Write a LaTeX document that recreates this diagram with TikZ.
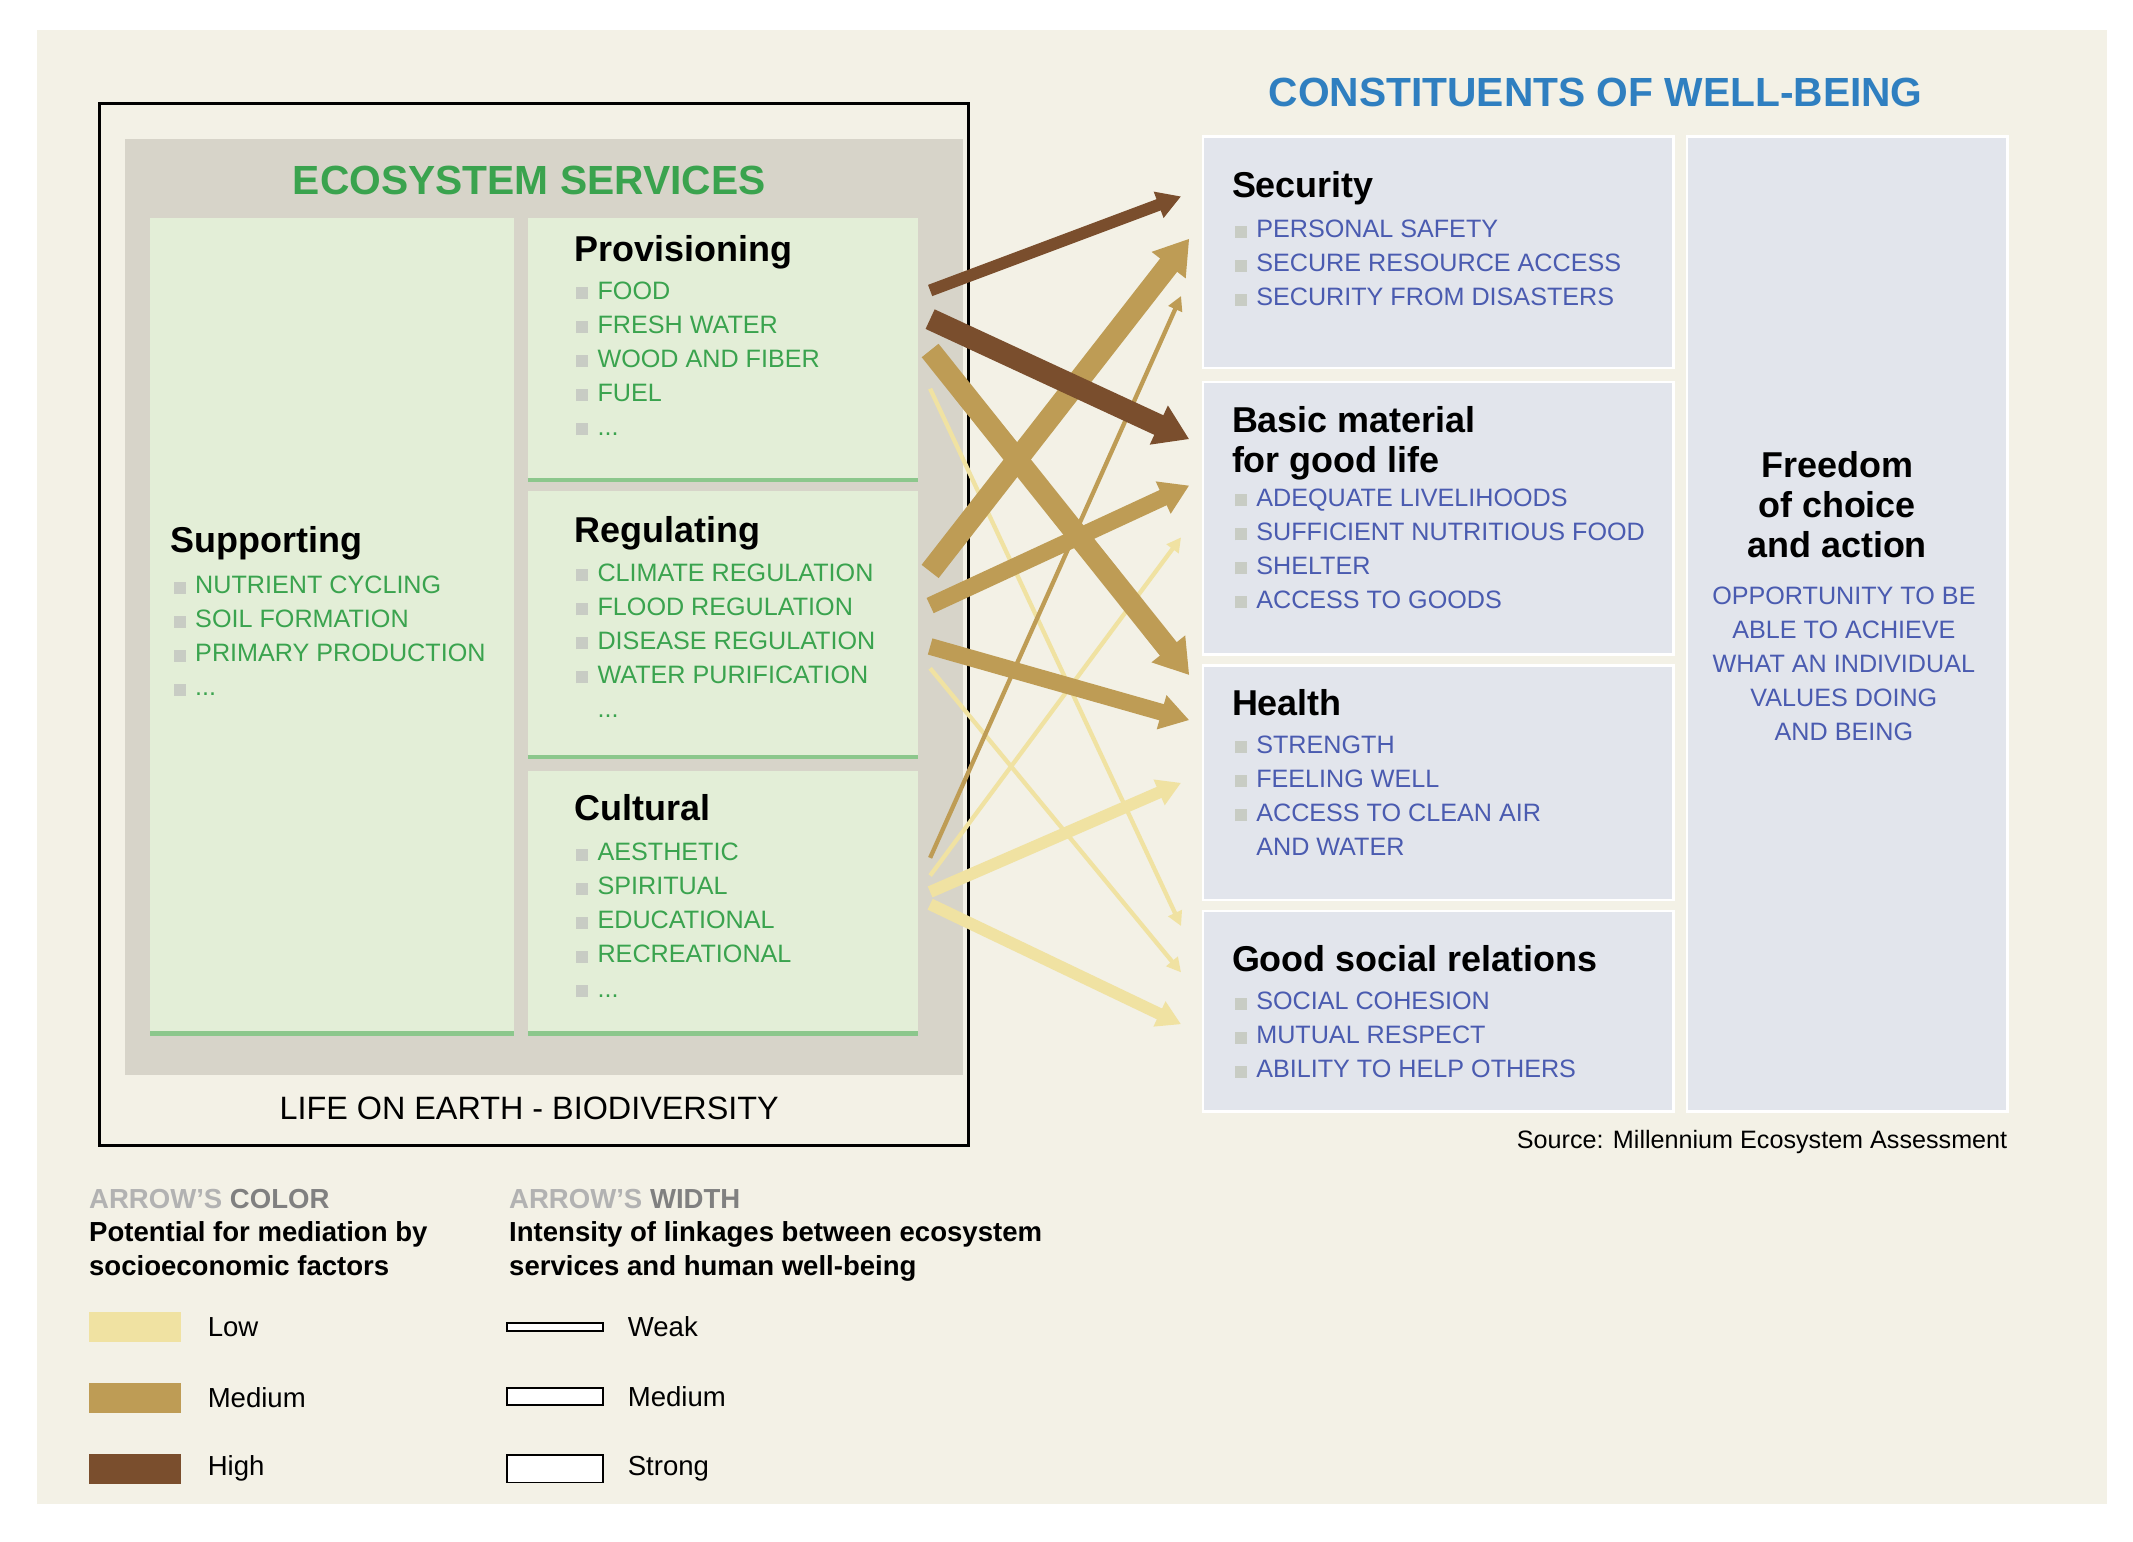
\documentclass[tikz,border=0pt]{standalone}
\usepackage{fontspec}
\setmainfont{Liberation Sans}
\usetikzlibrary{arrows.meta}
\definecolor{bg}{HTML}{F3F1E6}
\definecolor{grayb}{HTML}{D7D4C9}
\definecolor{greenp}{HTML}{E3EED7}
\definecolor{greenl}{HTML}{8CC78C}
\definecolor{greent}{HTML}{3AA34E}
\definecolor{bluep}{HTML}{E2E5EC}
\definecolor{bluet}{HTML}{4A5BB0}
\definecolor{titleb}{HTML}{2F7FC0}
\definecolor{bul}{HTML}{C8CCC4}
\definecolor{clow}{HTML}{F0E2A2}
\definecolor{cmed}{HTML}{BE9C55}
\definecolor{chigh}{HTML}{7A4E2D}
\newcommand\bl{\textcolor{bul}{\rule{5pt}{5pt}}\hspace{4pt}}
\tikzset{
 gpanel/.style={fill=greenp,draw=none},
 bpanel/.style={fill=bluep,draw=white,line width=1pt},
 head/.style={anchor=north west,font=\fontsize{15}{17}\selectfont\bfseries,align=left,inner sep=0pt},
 glist/.style={anchor=north west,font=\fontsize{10.5}{14.2}\selectfont,text=greent,align=left,inner sep=0pt},
 blist/.style={anchor=north west,font=\fontsize{10.5}{14.2}\selectfont,text=bluet,align=left,inner sep=0pt},
 weak/.style={-{Triangle[length=6pt,width=6pt]},line width=1.8pt},
 medw/.style={-{Triangle[length=10pt,width=11pt]},line width=5pt},
 medx/.style={-{Triangle[length=12pt,width=14pt]},line width=7pt},
 strong/.style={-{Triangle[length=14pt,width=17pt]},line width=9pt},
 leg/.style={anchor=west,font=\fontsize{11.5}{14}\selectfont,inner sep=0pt},
}
\begin{document}
\begin{tikzpicture}[x=0.02cm,y=-0.02cm]
\useasboundingbox (0,0) rectangle (1564,1130);
\fill[bg] (27,22) rectangle (1545,1103);
% left frame
\draw[line width=1.5pt] (73,76) rectangle (710,840);
\fill[grayb] (92,102) rectangle (706,788);
\node[font=\fontsize{17}{19}\selectfont\bfseries,text=greent] (est) at (388,132) {ECOSYSTEM SERVICES};
\fill[gpanel] (110,160) rectangle (377,758);
\fill[gpanel] (387,160) rectangle (673,352);
\fill[gpanel] (387,360) rectangle (673,555);
\fill[gpanel] (387,565) rectangle (673,758);
\foreach \a/\b/\y in {110/377/758,387/673/352,387/673/555,387/673/758}
  \draw[greenl,line width=2pt] (\a,\y) -- (\b,\y);
\node[head] (sup) at (125,386) {Supporting};
\node[glist] (supl) at (127,422) {\bl NUTRIENT CYCLING\\\bl SOIL FORMATION\\\bl PRIMARY PRODUCTION\\\bl ...};
\node[head] (prov) at (421,172) {Provisioning};
\node[glist] (provl) at (422,206) {\bl FOOD\\\bl FRESH WATER\\\bl WOOD AND FIBER\\\bl FUEL\\\bl ...};
\node[head] (reg) at (421,378) {Regulating};
\node[glist] (regl) at (422,413) {\bl CLIMATE REGULATION\\\bl FLOOD REGULATION\\\bl DISEASE REGULATION\\\bl WATER PURIFICATION\\\hspace{9pt}...};
\node[head] (cul) at (421,582) {Cultural};
\node[glist] (cull) at (422,618) {\bl AESTHETIC\\\bl SPIRITUAL\\\bl EDUCATIONAL\\\bl RECREATIONAL\\\bl ...};
\node[font=\fontsize{13.5}{15}\selectfont] (life) at (388,813) {LIFE ON EARTH - BIODIVERSITY};
% right
\node[font=\fontsize{17}{19}\selectfont\bfseries,text=titleb] (cwb) at (1170,68) {CONSTITUENTS OF WELL-BEING};
\draw[bpanel] (882,100) rectangle (1227,270);
\draw[bpanel] (882,280) rectangle (1227,480);
\draw[bpanel] (882,488) rectangle (1227,660);
\draw[bpanel] (882,668) rectangle (1227,815);
\draw[bpanel] (1237,100) rectangle (1472,815);
\node[head] (sec) at (903,125) {Security};
\node[blist] (secl) at (905,161) {\bl PERSONAL SAFETY\\\bl SECURE RESOURCE ACCESS\\\bl SECURITY FROM DISASTERS};
\node[head,font=\fontsize{15}{16.5}\selectfont\bfseries] (bas) at (903,298) {Basic material\\for good life};
\node[blist] (basl) at (905,358) {\bl ADEQUATE LIVELIHOODS\\\bl SUFFICIENT NUTRITIOUS FOOD\\\bl SHELTER\\\bl ACCESS TO GOODS};
\node[head] (hea) at (903,505) {Health};
\node[blist] (heal) at (905,539) {\bl STRENGTH\\\bl FEELING WELL\\\bl ACCESS TO CLEAN AIR\\\hspace{9pt}AND WATER};
\node[head] (soc) at (903,693) {Good social relations};
\node[blist] (socl) at (905,727) {\bl SOCIAL COHESION\\\bl MUTUAL RESPECT\\\bl ABILITY TO HELP OTHERS};
\node[font=\fontsize{15}{16.5}\selectfont\bfseries,align=center] (fre) at (1347,370) {Freedom\\of choice\\and action};
\node[font=\fontsize{10.5}{14.2}\selectfont,text=bluet,align=center,anchor=north] (frel) at (1352,424) {OPPORTUNITY TO BE\\ABLE TO ACHIEVE\\WHAT AN INDIVIDUAL\\VALUES DOING\\AND BEING};
\node[anchor=east,font=\fontsize{10.5}{12}\selectfont] (src) at (1478,837) {Source: Millennium Ecosystem Assessment};
% arrow coordinates
\coordinate (s1) at (682,213); \coordinate (s2) at (682,234); \coordinate (s3) at (682,257);
\coordinate (s4) at (682,285); \coordinate (s5) at (682,419); \coordinate (s6) at (682,444);
\coordinate (s7) at (682,474); \coordinate (s8) at (682,490); \coordinate (s9) at (682,629);
\coordinate (s10) at (682,642); \coordinate (s11) at (682,654); \coordinate (s12) at (682,663);
\coordinate (e1) at (866,144); \coordinate (e2) at (872,175); \coordinate (e3) at (866,217);
\coordinate (e4) at (872,322); \coordinate (e5) at (872,356); \coordinate (e6) at (866,394);
\coordinate (e7) at (872,495); \coordinate (e8) at (872,528); \coordinate (e9) at (866,574);
\coordinate (e10) at (866,679); \coordinate (e11) at (866,713); \coordinate (e12) at (866,751);
% arrows: low
\draw[weak,clow] (s4) -- (e10);
\draw[weak,clow] (s8) -- (e11);
\draw[weak,clow] (s10) -- (e6);
\draw[medw,clow] (s11) -- (e9);
\draw[medw,clow] (s12) -- (e12);
% medium
\draw[weak,cmed] (s9) -- (e3);
\draw[strong,cmed] (s3) -- (e7);
\draw[strong,cmed] (s5) -- (e2);
\draw[medx,cmed] (s6) -- (e5);
\draw[medx,cmed] (s7) -- (e8);
% high
\draw[medw,chigh] (s1) -- (e1);
\draw[strong,chigh] (s2) -- (e4);
% legend
\node[anchor=west,font=\fontsize{11.5}{14}\selectfont\bfseries,inner sep=0pt] (lc) at (65,879) {\textcolor{gray!60}{ARROW'S} \textcolor{gray}{COLOR}};
\node[anchor=north west,font=\fontsize{11.5}{14.5}\selectfont\bfseries,align=left,inner sep=0pt] (lct) at (65,895) {Potential for mediation by\\socioeconomic factors};
\node[anchor=west,font=\fontsize{11.5}{14}\selectfont\bfseries,inner sep=0pt] (lw) at (373,879) {\textcolor{gray!60}{ARROW'S} \textcolor{gray}{WIDTH}};
\node[anchor=north west,font=\fontsize{11.5}{14.5}\selectfont\bfseries,align=left,inner sep=0pt] (lwt) at (373,895) {Intensity of linkages between ecosystem\\services and human well-being};
\fill[clow] (65,962) rectangle (133,984); \node[leg] (llow) at (152,973) {Low};
\fill[cmed] (65,1014) rectangle (133,1036); \node[leg] (lmed) at (152,1025) {Medium};
\fill[chigh] (65,1066) rectangle (133,1088); \node[leg] (lhigh) at (152,1077) {High};
\draw[line width=0.8pt,fill=white] (372,970) rectangle (442,976); \node[leg] (lwk) at (460,973) {Weak};
\draw[line width=0.8pt,fill=white] (372,1018) rectangle (442,1030); \node[leg] (lmd) at (460,1024) {Medium};
\draw[line width=0.8pt,fill=white] (372,1067) rectangle (442,1087); \node[leg] (lst) at (460,1077) {Strong};
\end{tikzpicture}
\end{document}
